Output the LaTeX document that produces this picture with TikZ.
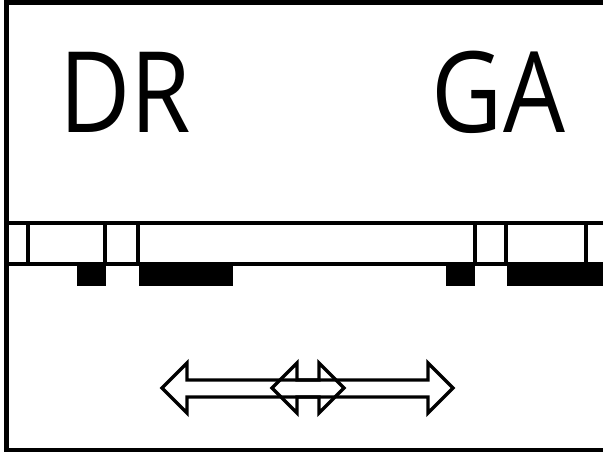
\documentclass[tikz,border=0pt]{standalone}
\usepackage{fontspec}
\setmainfont{Open Sans}
\begin{document}
\begin{tikzpicture}[x=0.02cm,y=-0.02cm,
    bar/.style={line width=1.8pt},
    label/.style={anchor=base,inner sep=0pt,xscale=0.87,font=\fontsize{64}{64}\selectfont},
    arr/.style={line width=1.9pt,line join=miter}]
    \useasboundingbox (0,0) rectangle (603,452);
    \def\dblarrow#1#2{(#1,388) -- (#1+25,363) -- (#1+25,380) -- (#2-25,380) -- (#2-25,363) -- (#2,388) -- (#2-25,413) -- (#2-25,397) -- (#1+25,397) -- (#1+25,413) -- cycle}
    \draw [line width=2.6pt] (603,2.5) -- (6.5,2.5) -- (6.5,450.5) -- (603,450.5);
    \node [label] (dr) at (125.5,133) {DR};
    \node [label] (ga) at (498.5,133) {GA};
    % bar and its blocks
    \draw [bar] (6.5,223) -- (603,223);
    \draw [bar] (6.5,264) -- (603,264);
    \foreach \x in {28,105,138,475,506,586} \draw [bar] (\x,223) -- (\x,264);
    \foreach \a/\b in {77/106,139/233,446/475,507/603} \fill (\a,265) rectangle (\b,286);
    % the two arrows
    \draw [arr] \dblarrow{162}{344};
    \draw [arr] \dblarrow{272}{453};
\end{tikzpicture}
\end{document}
